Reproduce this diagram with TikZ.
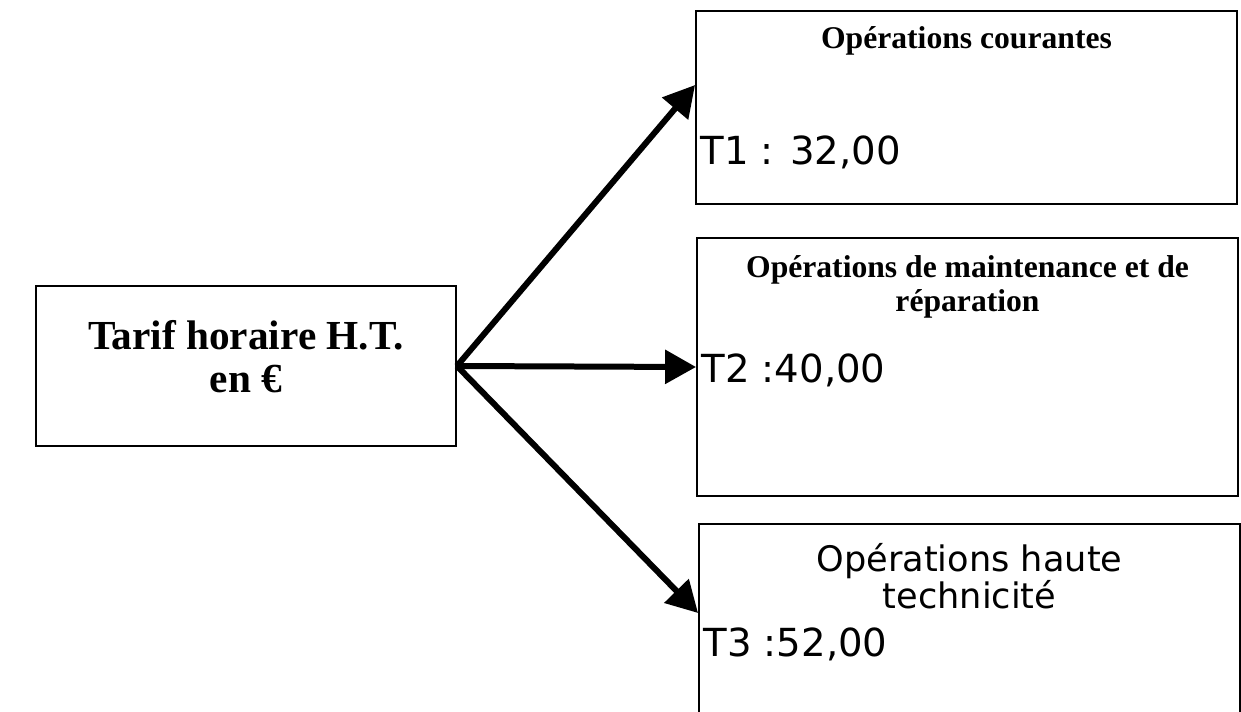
\documentclass[tikz,border=0pt]{standalone}
\usepackage{fontspec}
\setmainfont{Liberation Serif}
\newfontfamily\verd{DejaVu Sans}
\usetikzlibrary{arrows.meta}

\begin{document}
\begin{tikzpicture}[x=0.02cm, y=-0.02cm,
    box/.style={draw, line width=0.04cm, minimum width=10.82cm},
    pointer/.style={line width=0.12cm, -{Triangle[length=0.62cm, width=0.66cm]}},
    titre/.style={font=\bfseries\fontsize{18}{19.5}\selectfont, align=center, anchor=north, inner sep=0pt},
    tarif/.style={font=\verd\fontsize{22}{26}\selectfont, anchor=base west, inner sep=0pt}]
    \useasboundingbox (0,0) rectangle (1241,711);
    \clip (0,0) rectangle (1241,711);

    % 左侧方框
    \node[draw, line width=0.04cm, minimum width=8.4cm, minimum height=3.2cm] (horaire) at (246,366) {};
    \node[titre, font=\bfseries\fontsize{23.5}{24.5}\selectfont] (horairetxt) at ([yshift=-0.7cm]horaire.north) {Tarif horaire H.T.\\en €};

    % 右侧方框
    \node[box, minimum height=3.86cm] (courant) at (966.5,107.5) {};
    \node[box, minimum height=5.16cm] (maint) at (967.5,367) {};
    \node[box, minimum height=5.52cm] (haute) at (969.5,662) {};

    % 方框内文字
    \node[titre] (courantxt) at ([yshift=-0.32cm]courant.north) {Opérations courantes};
    \node[tarif] (t1) at ([xshift=0.1cm, yshift=-3.1cm]courant.north west) {T1 : 32,00};

    \node[titre] (mainttxt) at ([yshift=-0.36cm]maint.north) {Opérations de maintenance et de\\réparation};
    \node[tarif] (t2) at ([xshift=0.1cm, yshift=-2.9cm]maint.north west) {T2 :40,00};

    \node[titre, font=\verd\fontsize{20}{17.6}\selectfont] (hautetxt) at ([yshift=-0.4cm]haute.north) {Opérations haute\\technicité};
    \node[tarif] (t3) at ([xshift=0.1cm, yshift=-2.66cm]haute.north west) {T3 :52,00};

    % 箭头
    \draw[pointer] (horaire.east) -- ([yshift=-1.5cm]courant.north west);
    \draw[pointer] (horaire.east) -- (maint.west);
    \draw[pointer] (horaire.east) -- ([yshift=-1.8cm]haute.north west);
\end{tikzpicture}
\end{document}
